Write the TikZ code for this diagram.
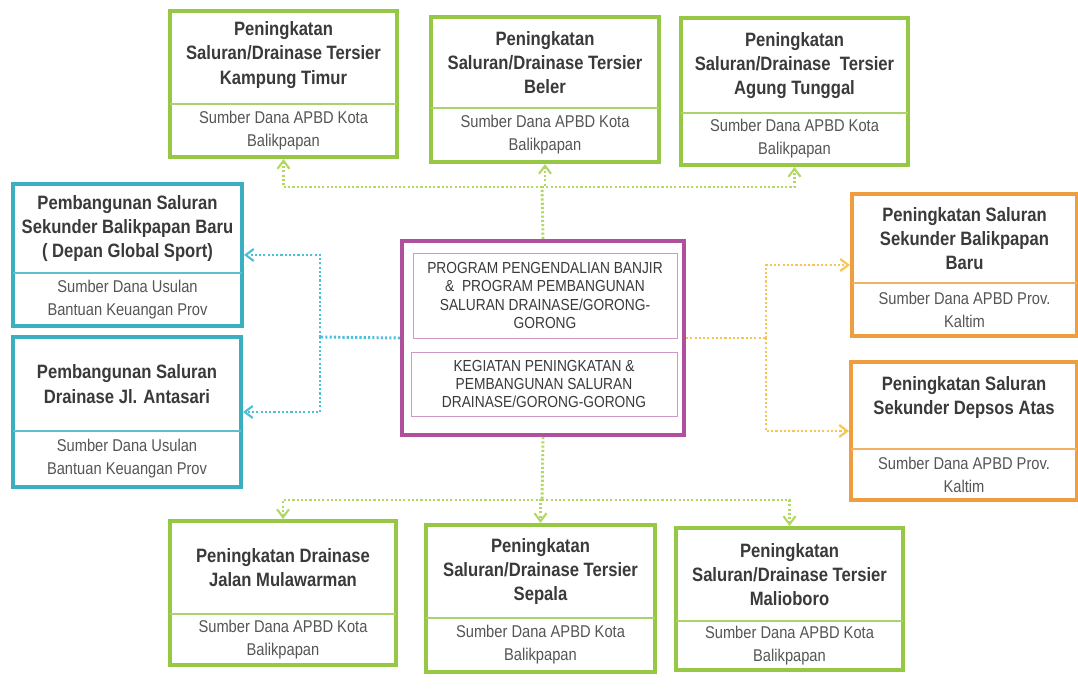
\documentclass[tikz,border=0pt]{standalone}
\usepackage{fontspec}
\setmainfont{Liberation Sans}[FakeStretch=0.86]
\usetikzlibrary{fit,arrows.meta}
\definecolor{gbox}{HTML}{96C846}
\definecolor{cbox}{HTML}{3AAFC0}
\definecolor{obox}{HTML}{EE9E3E}
\definecolor{mbox}{HTML}{B0509C}
\definecolor{gline}{HTML}{B2D862}
\definecolor{cline}{HTML}{4CC0D8}
\definecolor{oline}{HTML}{F8C452}
\definecolor{tdark}{HTML}{3A3A3A}
\definecolor{tsub}{HTML}{555555}
\tikzset{
  outerbox/.style={fit={#1}, inner sep=0pt, line width=3pt},
  titletext/.style={font=\fontsize{14.5}{18.3}\selectfont\bfseries, text=tdark, align=center},
  subtext/.style={font=\fontsize{12.8}{17.3}\selectfont, text=tsub, align=center},
  divline/.style={line width=1.2pt},
  conn/.style={line width=2.2pt, dash pattern=on 1.6pt off 1.6pt},
  arr/.style={-{Straight Barb[length=6pt,width=9pt,line width=1.6pt]}},
  centertext/.style={font=\fontsize{12}{13.8}\selectfont, text=tdark, align=center},
  every de title/.style={yshift=6pt},
  every kt title/.style={yshift=2pt},
}
% #1 name, #2 x1, #3 y1, #4 x2, #5 y2, #6 ydiv, #7 color, #8 title, #9 sub
\newcommand{\infobox}[9]{%
  \node[outerbox={(#2,#3)(#4,#5)}, draw=#7] (#1) {};
  \draw[divline, #7!80] (#2,#6) -- (#4,#6);
  \node[titletext, every #1 title/.try] (#1-t) at ({(#2+#4)/2},{(#3+#6)/2}) {#8};
  \node[subtext] (#1-s) at ({(#2+#4)/2},{(#6+#5)/2}) {#9};
}
\begin{document}
\begin{tikzpicture}[x=0.75pt,y=-0.75pt]
\useasboundingbox (0,0) rectangle (1078,691);
\fill[white] (0,0) rectangle (1078,691);

% top row
\infobox{kt}{170}{11}{397}{157}{104}{gbox}{Peningkatan\\Saluran/Drainase Tersier\\Kampung Timur}{Sumber Dana APBD Kota\\Balikpapan}
\infobox{be}{431}{17}{659}{162}{108}{gbox}{Peningkatan\\Saluran/Drainase Tersier\\Beler}{Sumber Dana APBD Kota\\Balikpapan}
\infobox{ag}{681}{18}{908}{165}{113}{gbox}{Peningkatan\\Saluran/Drainase\ \ Tersier\\Agung Tunggal}{Sumber Dana APBD Kota\\Balikpapan}

% left
\infobox{gs}{13}{184}{242}{326}{273}{cbox}{Pembangunan Saluran\\Sekunder Balikpapan Baru\\( Depan Global Sport)}{Sumber Dana Usulan\\Bantuan Keuangan Prov}
\infobox{an}{13}{337}{241}{487}{431}{cbox}{Pembangunan Saluran\\Drainase Jl. Antasari}{Sumber Dana Usulan\\Bantuan Keuangan Prov}

% right
\infobox{bb}{852}{194}{1077}{336}{283}{obox}{Peningkatan Saluran\\Sekunder Balikpapan\\Baru}{Sumber Dana APBD Prov.\\Kaltim}
\infobox{de}{851}{362}{1077}{500}{449}{obox}{Peningkatan Saluran\\Sekunder Depsos Atas}{Sumber Dana APBD Prov.\\Kaltim}

% bottom
\infobox{mu}{170}{521}{396}{665}{614}{gbox}{Peningkatan Drainase\\Jalan Mulawarman}{Sumber Dana APBD Kota\\Balikpapan}
\infobox{se}{426}{525}{655}{672}{618}{gbox}{Peningkatan\\Saluran/Drainase Tersier\\Sepala}{Sumber Dana APBD Kota\\Balikpapan}
\infobox{ma}{676}{528}{903}{670}{621}{gbox}{Peningkatan\\Saluran/Drainase Tersier\\Malioboro}{Sumber Dana APBD Kota\\Balikpapan}

% center
\node[outerbox={(402,241)(684,435)}, draw=mbox] (ce) {};
\node[fit={(413,253)(677,338)}, inner sep=0pt, draw=mbox!60, line width=0.7pt] (ce1) {};
\node[fit={(411,352)(677,416)}, inner sep=0pt, draw=mbox!60, line width=0.7pt] (ce2) {};
\node[centertext] (ce1t) at (ce1.center) {PROGRAM PENGENDALIAN BANJIR\\\&\ \ PROGRAM PEMBANGUNAN\\SALURAN DRAINASE/GORONG-\\GORONG};
\node[centertext] (ce2t) at (ce2.center) {KEGIATAN PENINGKATAN \&\\PEMBANGUNAN SALURAN\\DRAINASE/GORONG-GORONG};

% junctions
\coordinate (tj) at (542,187);
\coordinate (lj) at (320,337);
\coordinate (rj) at (766,338);
\coordinate (bj) at (542,500);

% top connectors
\draw[conn, gline] (ce.north) -- (tj);
\draw[conn, gline, arr] (tj) -| (kt.south);
\draw[conn, gline, arr] (tj) -| (be.south);
\draw[conn, gline, arr] (tj) -| (ag.south);
% left connectors
\draw[conn, cline] (ce.west) -- (lj);
\draw[conn, cline, arr] (lj) |- (gs.east);
\draw[conn, cline, arr] (lj) |- (an.east);
% right connectors
\draw[conn, oline] (ce.east) -- (rj);
\draw[conn, oline, arr] (rj) |- (bb.west);
\draw[conn, oline, arr] (rj) |- (de.west);
% bottom connectors
\draw[conn, gline] (ce.south) -- (bj);
\draw[conn, gline, arr] (bj) -| (mu.north);
\draw[conn, gline, arr] (bj) -| (se.north);
\draw[conn, gline, arr] (bj) -| (ma.north);
\end{tikzpicture}
\end{document}
